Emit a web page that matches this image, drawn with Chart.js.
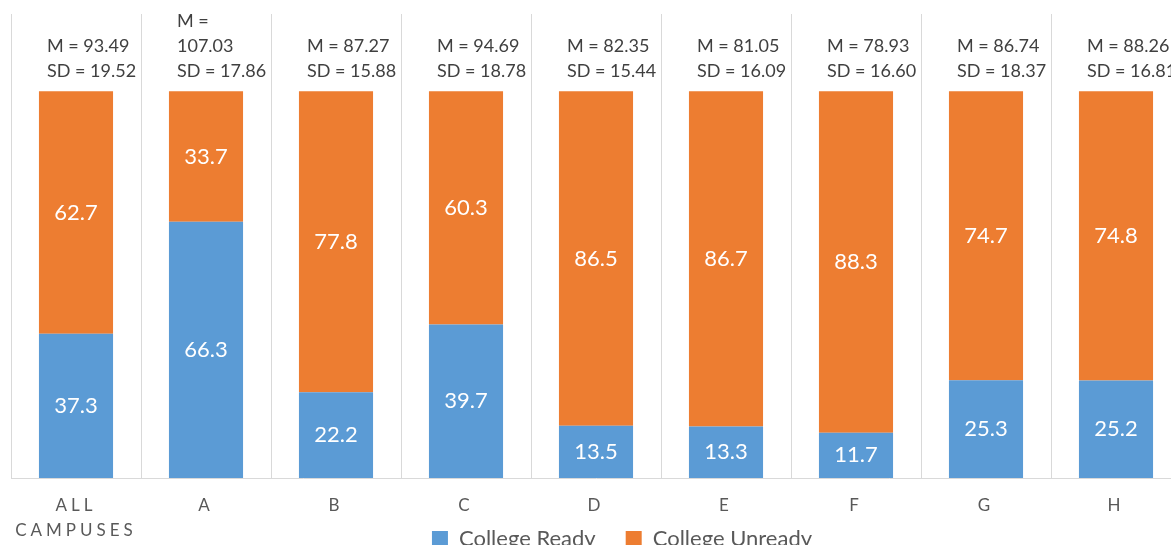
<!DOCTYPE html>
<html>
<head>
<meta charset="utf-8">
<script src="https://cdn.jsdelivr.net/npm/chart.js@4.4.0/dist/chart.umd.min.js"></script>
<style>
  html, body { margin: 0; padding: 0; background: #fff; overflow: hidden; }
  #wrap { width: 1233px; height: 560px; position: relative; }
</style>
</head>
<body>
<div id="wrap"><canvas id="chart"></canvas></div>
<script>
const campuses = ["ALL CAMPUSES", "A", "B", "C", "D", "E", "F", "G", "H"];
const collegeReady = [37.3, 66.3, 22.2, 39.7, 13.5, 13.3, 11.7, 25.3, 25.2];
const collegeUnready = [62.7, 33.7, 77.8, 60.3, 86.5, 86.7, 88.3, 74.7, 74.8];
const means = [93.49, 107.03, 87.27, 94.69, 82.35, 81.05, 78.93, 86.74, 88.26];
const sds = [19.52, 17.86, 15.88, 18.78, 15.44, 16.09, 16.60, 18.37, 16.81];

const labelPlugin = {
  id: 'labels',
  afterDatasetsDraw(chart) {
    const ctx = chart.ctx;
    const metas = [chart.getDatasetMeta(0).data, chart.getDatasetMeta(1).data];
    ctx.save();

    // values inside the bars
    ctx.textAlign = 'center';
    ctx.textBaseline = 'middle';
    ctx.fillStyle = '#ffffff';
    ctx.font = '22px Lato';
    metas.forEach((bars, d) => {
      bars.forEach((bar, i) => {
        const v = chart.data.datasets[d].data[i];
        ctx.fillText(v.toFixed(1), bar.x, (bar.y + bar.base) / 2);
      });
    });

    // M / SD above each bar
    ctx.textAlign = 'left';
    ctx.fillStyle = '#404040';
    ctx.font = '18px Lato';
    metas[1].forEach((bar, i) => {
      const m = means[i].toFixed(2);
      // the long mean wraps onto its own line
      const lines = means[i] >= 100 ? ['M =', m] : ['M = ' + m];
      lines.push('SD = ' + sds[i].toFixed(2));
      lines.forEach((t, k) => {
        ctx.fillText(t, bar.x - 29, bar.y - 20 - (lines.length - 1 - k) * 25);
      });
    });
    ctx.restore();
  },
  afterDraw(chart) {
    // category labels, letter spaced
    const ctx = chart.ctx;
    const xs = chart.scales.x;
    ctx.save();
    ctx.textAlign = 'center';
    ctx.textBaseline = 'middle';
    ctx.fillStyle = '#595959';
    ctx.font = '17px Lato';
    ctx.letterSpacing = '4px';
    campuses.forEach((c, i) => {
      c.split(' ').forEach((t, k) => {
        ctx.fillText(t, xs.getPixelForValue(i), chart.chartArea.bottom + 28 + k * 25);
      });
    });
    ctx.restore();
  }
};

new Chart(document.getElementById('chart'), {
  type: 'bar',
  data: {
    labels: campuses,
    datasets: [
      { label: 'College Ready', data: collegeReady, backgroundColor: '#5B9BD5' },
      { label: 'College Unready', data: collegeUnready, backgroundColor: '#ED7D31' }
    ]
  },
  options: {
    responsive: true,
    maintainAspectRatio: false,
    animation: false,
    layout: { padding: { left: 11, right: 0, top: 14, bottom: 0 } },
    datasets: { bar: { categoryPercentage: 1, barPercentage: 0.57 } },
    scales: {
      x: {
        stacked: true,
        grid: { color: '#d9d9d9', drawTicks: false },
        border: { color: '#d9d9d9' },
        ticks: { display: false },
        afterFit: s => { s.height = 20; }
      },
      // invisible axis, only keeps empty room on the right
      y: {
        stacked: true,
        position: 'right',
        min: 0,
        max: 120,
        grid: { display: false },
        border: { display: false },
        ticks: { display: false },
        afterFit: s => { s.width = 52; }
      }
    },
    plugins: {
      legend: {
        position: 'bottom',
        labels: {
          boxWidth: 16,
          boxHeight: 16,
          padding: 30,
          color: '#595959',
          font: { family: 'Lato', size: 22 }
        }
      },
      tooltip: { enabled: false }
    }
  },
  plugins: [labelPlugin]
});
</script>
</body>
</html>
